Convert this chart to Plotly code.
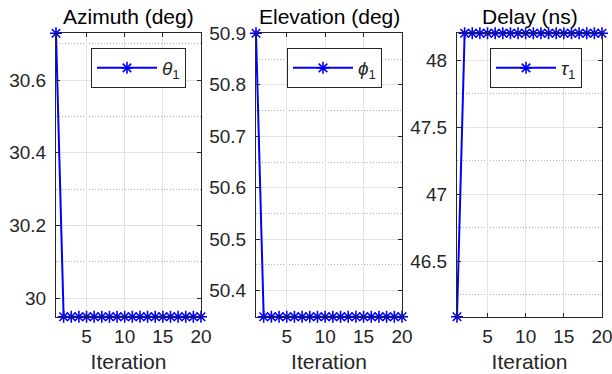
import plotly.graph_objects as go

W, H = 612, 374
iterations = list(range(1, 21))
azimuth = [30.729] + [29.949] * 19
elevation = [50.900] + [50.3495] * 19
delay = [46.084] + [48.202] * 19

titles = ["Azimuth (deg)", "Elevation (deg)", "Delay (ns)"]
legend_names = ["<i>θ</i><sub>1</sub>", "<i>ϕ</i><sub>1</sub>", "<i>τ</i><sub>1</sub>"]
series = [azimuth, elevation, delay]
ytick_step = [0.2, 0.1, 0.5]

# pixel layout
xdom_px = [(56, 201), (256, 402), (457, 602)]
ytop_px, ybot_px = 33.3, 316.7
legend_right_px = [186, 382, 582]
legend_top_px = 48

FONT = "Liberation Sans, Arial, sans-serif"
DARK = "#262626"

fig = go.Figure()
ydom = [(H - ybot_px) / H, (H - ytop_px) / H]

for i in range(3):
    xa = "x" if i == 0 else f"x{i+1}"
    ya = "y" if i == 0 else f"y{i+1}"
    lg = "legend" if i == 0 else f"legend{i+1}"
    fig.add_trace(go.Scatter(
        x=iterations, y=series[i], mode="lines+markers",
        name=legend_names[i], xaxis=xa, yaxis=ya, legend=lg,
        line=dict(color="#0000FF", width=2),
        marker=dict(symbol="asterisk-open", size=10, color="#0000FF",
                    line=dict(color="#0000FF", width=1.6)),
        cliponaxis=False, showlegend=True,
    ))
    ax_common = dict(
        showline=True, linecolor=DARK, linewidth=1, mirror="allticks",
        ticks="inside", ticklen=4, tickcolor=DARK, zeroline=False,
        tickfont=dict(family=FONT, size=19, color=DARK),
        showgrid=True, gridcolor="#E3E3E3", gridwidth=1,
        automargin=False, ticklabeloverflow="allow",
    )
    xkey = "xaxis" if i == 0 else f"xaxis{i+1}"
    ykey = "yaxis" if i == 0 else f"yaxis{i+1}"
    x0, x1 = xdom_px[i]
    fig.update_layout(**{
        xkey: dict(ax_common, domain=[x0 / W, x1 / W], range=[1, 20],
                   tickmode="array", tickvals=[5, 10, 15, 20],
                   anchor=ya, ticklabelstandoff=2,
                   title=dict(text="Iteration", font=dict(family=FONT, size=21, color=DARK),
                              standoff=8)),
        ykey: dict(ax_common, domain=ydom, range=[min(series[i]), max(series[i])],
                   dtick=ytick_step[i], tick0=0, anchor=xa, ticklabelstandoff=5,
                   minor=dict(dtick=ytick_step[i] / 2, tick0=0, showgrid=True,
                              griddash="1px,2px", gridcolor="#B0B0B0", gridwidth=1,
                              ticks="")),
        lg: dict(x=legend_right_px[i] / W, xanchor="right",
                 y=1 - legend_top_px / H, yanchor="top",
                 bgcolor="white", bordercolor=DARK, borderwidth=1,
                 font=dict(family=FONT, size=19, color=DARK),
                 itemwidth=60, tracegroupgap=0),
    })
    fig.add_annotation(
        text=titles[i], x=(x0 + x1) / 2 / W, y=1 - 17 / H,
        xref="paper", yref="paper", xanchor="center", yanchor="middle",
        showarrow=False, font=dict(family=FONT, size=21, color="black"),
    )

fig.update_layout(
    width=W, height=H, margin=dict(l=0, r=0, t=0, b=0),
    paper_bgcolor="white", plot_bgcolor="white",
)

fig.write_html("out.html", config={"displayModeBar": False},
               post_script="document.body.style.margin='0';")
